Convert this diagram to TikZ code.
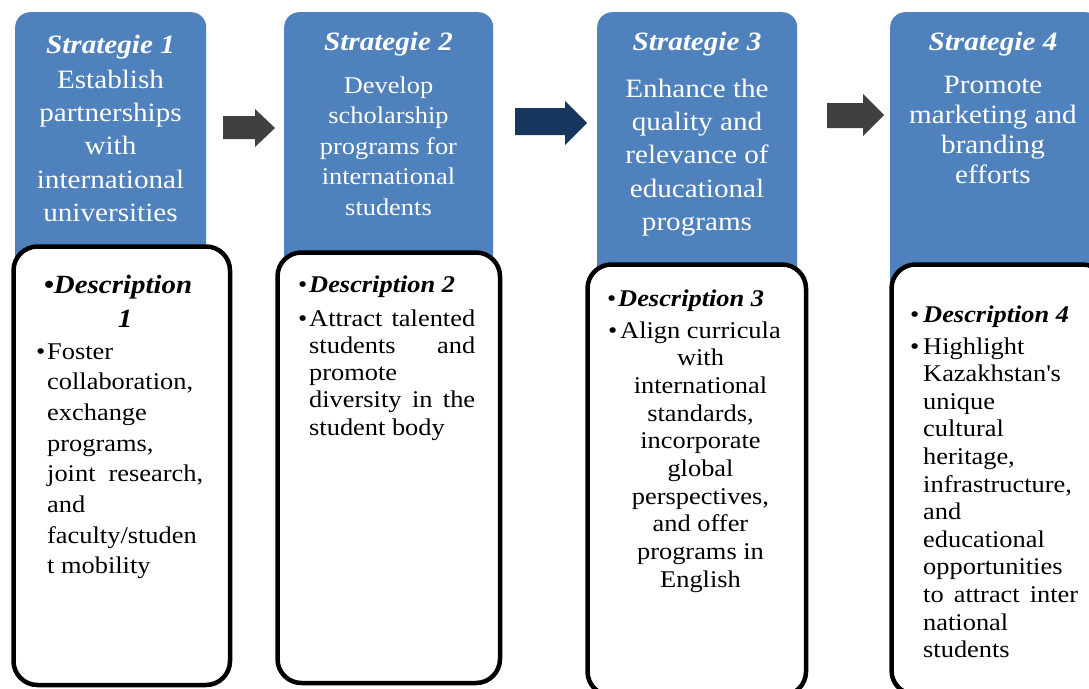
\documentclass[tikz,border=0pt]{standalone}
\usepackage{fontspec}
\setmainfont{Liberation Serif}[FakeStretch=1.1]
\definecolor{sblue}{RGB}{79,129,189}
\definecolor{agrey}{RGB}{64,64,64}
\definecolor{anavy}{RGB}{23,55,94}
\begin{document}
\begin{tikzpicture}[x=1pt,y=-1pt,
  sbox/.style={fill=sblue, draw=none, rounded corners=15pt, anchor=north west, inner sep=0pt},
  dbox/.style={draw=black, line width=4.5pt, fill=white, rounded corners=24pt, anchor=north west, inner sep=0pt},
  stitle/.style={text=white, inner sep=0pt, anchor=base, font=\fontsize{26.5}{30}\selectfont\bfseries\itshape},
  btbig/.style={text=white, inner sep=0pt, anchor=base, font=\fontsize{26.5}{30}\selectfont},
  btsmall/.style={text=white, inner sep=0pt, anchor=base, font=\fontsize{24}{28}\selectfont},
  dtitle/.style={text=black, inner sep=0pt, anchor=base west, font=\fontsize{24}{28}\selectfont\bfseries\itshape},
  dtitlebig/.style={text=black, inner sep=0pt, anchor=base, font=\fontsize{26.3}{30}\selectfont\bfseries\itshape},
  dtext/.style={text=black, inner sep=0pt, anchor=base west, font=\fontsize{24}{28}\selectfont},
  dtextc/.style={text=black, inner sep=0pt, anchor=base, font=\fontsize{24}{28}\selectfont}]
\useasboundingbox (0,0) rectangle (1089,688);
\clip (0,0) rectangle (1089,688);
\fill[white] (0,0) rectangle (1089,688);

% blue strategy boxes (lower ends hidden behind the description boxes)
\node[sbox, minimum width=191pt, minimum height=320pt] (s1) at (15,12) {};
\node[sbox, minimum width=209pt, minimum height=320pt] (s2) at (284,12) {};
\node[sbox, minimum width=200pt, minimum height=330pt] (s3) at (597,12) {};
\node[sbox, minimum width=210pt, minimum height=330pt] (s4) at (890,12) {};

% white description boxes
\node[dbox, minimum width=216.5pt, minimum height=438.5pt] (d1) at (11.25,244.25) {};
\node[dbox, minimum width=222.5pt, minimum height=430.5pt] (d2) at (275.25,250.25) {};
\node[dbox, minimum width=218.5pt, minimum height=431pt] (d3) at (585.25,262.25) {};
\node[dbox, minimum width=215pt, minimum height=430pt] (d4) at (889.25,262.25) {};

% block arrows
\fill[agrey] (223,116) -- (255,116) -- (255,109) -- (275,128) -- (255,147) -- (255,139) -- (223,139) -- cycle;
\fill[anavy] (515,108) -- (565,108) -- (565,101) -- (587,123) -- (565,145) -- (565,135) -- (515,135) -- cycle;
\fill[agrey] (827,103) -- (863,103) -- (863,94) -- (884,115) -- (863,136) -- (863,128) -- (827,128) -- cycle;

% strategy 1
\node[stitle] (s1h) at (110.5,53) {Strategie 1};
\foreach \t [count=\i from 0] in {Establish,partnerships,with,international,universities}
  \node[btbig] (s1t\i) at (110.5,{88+33.4*\i}) {\t};

% strategy 2
\node[stitle] (s2h) at (388.5,50) {Strategie 2};
\foreach \t [count=\i from 0] in {Develop,scholarship,programs for,international,students}
  \node[btsmall] (s2t\i) at (388.5,{93+30.5*\i}) {\t};

% strategy 3
\node[stitle] (s3h) at (697,50) {Strategie 3};
\foreach \t [count=\i from 0] in {Enhance the,quality and,relevance of,educational,programs}
  \node[btbig] (s3t\i) at (697,{97+33.4*\i}) {\t};

% strategy 4
\node[stitle] (s4h) at (993,50) {Strategie 4};
\foreach \t [count=\i from 0] in {Promote,marketing and,branding,efforts}
  \node[btbig] (s4t\i) at (993,{93+30*\i}) {\t};

% description 1
\node[dtitlebig] (d1h) at (118,293) {•Description};
\node[dtitlebig] (d1n) at (125,327) {1};
\node[dtext] (d1b) at (36,359) {•};
\foreach \t [count=\i from 0] in {Foster,{collaboration,},exchange,{programs,},{\makebox[156pt][s]{joint research,}},and,faculty/studen,t mobility}
  \node[dtext] (d1t\i) at (47,{359+30.7*\i}) {\t};

% description 2
\node[dtext] (d2hb) at (298,292) {•};
\node[dtitle] (d2h) at (309,292) {Description 2};
\node[dtext] (d2b) at (298,326) {•};
\foreach \t [count=\i from 0] in {{\makebox[166pt][s]{Attract talented}},{\makebox[166pt][s]{students and}},promote,{\makebox[166pt][s]{diversity in the}},student body}
  \node[dtext] (d2t\i) at (309,{326+27.3*\i}) {\t};

% description 3
\node[dtext] (d3hb) at (607,306) {•};
\node[dtitle] (d3h) at (618,306) {Description 3};
\node[dtext] (d3b) at (608,338) {•};
\node[dtext] (d3t0) at (620,338) {Align curricula};
\foreach \t [count=\i from 1] in {with,international,{standards,},incorporate,global,{perspectives,},and offer,programs in,English}
  \node[dtextc] (d3t\i) at (700.5,{338+27.7*\i}) {\t};

% description 4
\node[dtext] (d4hb) at (910,322) {•};
\node[dtitle] (d4h) at (923,322) {Description 4};
\node[dtext] (d4b) at (910,354) {•};
\foreach \t [count=\i from 0] in {Highlight,Kazakhstan\textquotesingle s,unique,cultural,{heritage,},{infrastructure,},and,educational,opportunities,{\makebox[155pt][s]{to attract inter}},national,students}
  \node[dtext] (d4t\i) at (923,{354+27.6*\i}) {\t};
\end{tikzpicture}
\end{document}
